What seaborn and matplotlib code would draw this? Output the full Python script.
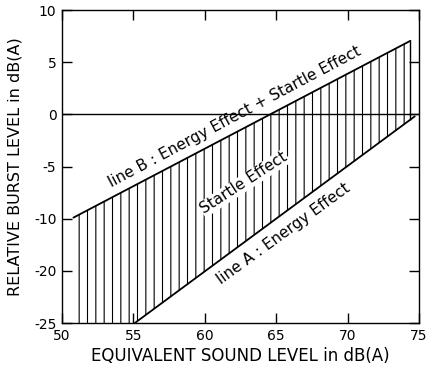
import numpy as np
import pandas as pd
import matplotlib
matplotlib.use("Agg")
import matplotlib.pyplot as plt
import seaborn as sns

# Data (y in axis units; bottom of axis = -20 position)
line_b_x = [50.8, 74.4]
line_b_y = [-9.9, 7.05]
line_a_x = [55.1, 74.7]
line_a_y = [-20.0, -0.2]

x_ticks = [50, 55, 60, 65, 70, 75]
x_tick_labels = ["50", "55", "60", "65", "70", "75"]
y_ticks = [10, 5, 0, -5, -10, -15, -20]
y_tick_labels = ["10", "5", "0", "-5", "-10", "-20", "-25"]

label_b = "line B : Energy Effect + Startle Effect"
label_mid = "Startle Effect"
label_a = "line A : Energy Effect"
x_label = "EQUIVALENT SOUND LEVEL in dB(A)"
y_label = "RELATIVE BURST LEVEL in dB(A)"

sns.set_theme(style="ticks")
plt.rcParams["font.family"] = ["DejaVu Sans"]
plt.rcParams["text.color"] = "black"
plt.rcParams["axes.labelcolor"] = "black"
plt.rcParams["hatch.linewidth"] = 0.8
plt.rcParams["hatch.color"] = "black"

fig = plt.figure(figsize=(4.32, 3.72), dpi=100)
ax = fig.add_axes([62/432, 1-323/372, (419-62)/432, (323-10)/372])

xmin, xmax = 50, 75
ymin, ymax = -20, 10

# hatched region between line B and line A (or axis bottom)
xs = np.array(sorted([line_b_x[0], line_a_x[0], line_b_x[1]]))
top = np.interp(xs, line_b_x, line_b_y)
bot = np.maximum(np.interp(xs, line_a_x, line_a_y, left=ymin), ymin)
ax.fill_between(xs, bot, top, facecolor="none", edgecolor="black",
                linewidth=0, hatch="||")

# lines
df_b = pd.DataFrame({"x": line_b_x, "y": line_b_y})
df_a = pd.DataFrame({"x": line_a_x, "y": line_a_y})
sns.lineplot(data=df_b, x="x", y="y", color="black", linewidth=1.3, ax=ax)
sns.lineplot(data=df_a, x="x", y="y", color="black", linewidth=1.3, ax=ax)
# right closing edge of the band
xr = line_b_x[1]
ax.vlines(xr, np.interp(xr, line_a_x, line_a_y), line_b_y[1], color="black", linewidth=1.0)

# zero line
ax.axhline(0, color="black", linewidth=1.0)

ax.set_xlim(xmin, xmax)
ax.set_ylim(ymin, ymax)
ax.set_xticks(x_ticks)
ax.set_xticklabels(x_tick_labels, fontsize=10)
ax.set_yticks(y_ticks)
ax.set_yticklabels(y_tick_labels, fontsize=10)
ax.tick_params(direction="in", length=7, width=1.0, top=True, right=True,
               colors="black", pad=4)
for s in ax.spines.values():
    s.set_visible(True)
    s.set_color("black")
    s.set_linewidth(1.0)

ax.set_xlabel(x_label, fontsize=12, color="black")
ax.set_ylabel(y_label, fontsize=11.5, color="black")
ax.yaxis.set_label_coords(-(62 - 23) / 357, 0.5)
ax.xaxis.set_label_coords(0.5, -(347 - 323) / 313)

ax.text(62.1, -0.2, label_b, rotation=28, ha="center", va="center",
        fontsize=11, rotation_mode="anchor", color="black")
ax.text(62.75, -6.6, label_mid, rotation=33, ha="center", va="center",
        fontsize=11, rotation_mode="anchor", color="black",
        bbox=dict(facecolor="white", edgecolor="none", pad=0.5))
ax.text(65.5, -11.4, label_a, rotation=36, ha="center", va="center",
        fontsize=11, rotation_mode="anchor", color="black")

fig.savefig("out.png", dpi=100)
